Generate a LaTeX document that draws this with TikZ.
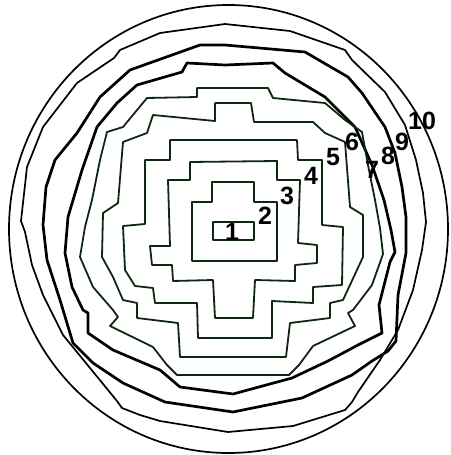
\documentclass[tikz,border=0pt]{standalone}
\usepackage{fontspec}
\setmainfont{Liberation Sans}
\definecolor{dkgreen}{RGB}{14,40,14}
\begin{document}
\begin{tikzpicture}[x=1pt,y=-1pt,line join=round,line cap=round,
  innerc/.style={draw=dkgreen,line width=1.8pt},
  thickc/.style={draw=black,line width=2.7pt},
  outerc/.style={draw=black,line width=1.7pt},
  lab/.style={font=\fontsize{25}{25}\selectfont\bfseries,inner sep=0pt,text=black}]
\useasboundingbox (0,0) rectangle (450,455);
\fill[white] (0,0) rectangle (450,455);
% contour 10
\draw[outerc] (228.5,229) ellipse [x radius=219.5, y radius=224];
% contour 9
\draw[outerc] (225,24) -- (290,31) -- (345,50) -- (352,60) -- (385,92) -- (405,125) -- (416,160) -- (423,193) -- (426,222) -- (422,250) -- (413,290) -- (398,330) -- (380,360) -- (358,392) -- (352,402) -- (345,410) -- (293,426) -- (228,432) -- (160,421) -- (140,415) -- (122,408) -- (117,401) -- (90,368) -- (63,335) -- (43,295) -- (32,265) -- (25,232) -- (21,221) -- (27,167) -- (43,127) -- (77,83) -- (114,58) -- (120,50) -- (160,33) -- cycle;
% contour 8
\draw[thickc] (225,45) -- (305,52) -- (348,77) -- (362,93) -- (385,127) -- (395,153) -- (402,187) -- (406,217) -- (406,253) -- (398,295) -- (396,341) -- (388,351) -- (372,361) -- (352,375) -- (302,398) -- (233,412) -- (165,402) -- (123,383) -- (93,363) -- (73,343) -- (60,300) -- (47,260) -- (43,225) -- (46,187) -- (55,160) -- (77,133) -- (100,97) -- (130,70) -- (200,45) -- cycle;
% contour 7
\draw[thickc] (225,65) -- (273,63) -- (285,73) -- (325,97) -- (355,127) -- (372,165) -- (384,200) -- (391,230) -- (395,252) -- (390,262) -- (379,305) -- (382,333) -- (358,345) -- (328,361) -- (292,378) -- (233,394) -- (180,387) -- (160,370) -- (113,350) -- (88,333) -- (88,313) -- (83,310) -- (72,287) -- (65,253) -- (68,217) -- (82,170) -- (97,127) -- (117,103) -- (137,85) -- (182,72) -- (187,63) -- cycle;
% contour 6
\draw[innerc] (147,98) -- (197,97) -- (197,88) -- (268,88) -- (273,98) -- (325,103) -- (345,120) -- (362,132) -- (368,165) -- (375,200) -- (380,228) -- (383,254) -- (372,285) -- (353,310) -- (348,313) -- (355,326) -- (313,346) -- (299,365) -- (289,375) -- (177,375) -- (167,365) -- (153,347) -- (110,326) -- (118,317) -- (113,310) -- (93,287) -- (80,257) -- (85,227) -- (92,200) -- (100,160) -- (107,132) -- (123,127) -- cycle;
% contour 5
\draw[innerc] (153,115) -- (215,121) -- (215,103) -- (251,103) -- (254,122) -- (313,122) -- (325,133) -- (345,142) -- (350,207) -- (363,215) -- (363,257) -- (343,300) -- (330,303) -- (330,318) -- (290,323) -- (286,357) -- (180,357) -- (178,323) -- (137,318) -- (137,303) -- (123,300) -- (113,277) -- (102,257) -- (103,213) -- (118,203) -- (123,142) -- (147,133) -- cycle;
% contour 4
\draw[innerc] (170,140) -- (297,140) -- (298,160) -- (322,160) -- (322,225) -- (343,227) -- (342,285) -- (313,287) -- (313,303) -- (272,301) -- (272,338) -- (198,338) -- (197,303) -- (155,303) -- (153,288) -- (135,286) -- (125,270) -- (123,226) -- (145,224) -- (145,160) -- (170,160) -- cycle;
% contour 3
\draw[innerc] (190,162) -- (277,161) -- (277,180) -- (300,180) -- (298,243) -- (317,245) -- (317,263) -- (295,265) -- (295,281) -- (255,280) -- (253,318) -- (215,318) -- (213,280) -- (173,281) -- (172,265) -- (152,265) -- (150,246) -- (170,246) -- (168,180) -- (190,180) -- cycle;
% contour 2
\draw[innerc] (212,182) -- (254,182) -- (254,202) -- (277,202) -- (277,261) -- (192,261) -- (192,202) -- (212,202) -- cycle;
% contour 1
\draw[innerc] (213,222) rectangle (254,240);
% labels
\node[lab] (l1) at (232,232) {1};
\node[lab] (l2) at (265,216) {2};
\node[lab] (l3) at (287,196) {3};
\node[lab] (l4) at (311,176) {4};
\node[lab] (l5) at (333,157) {5};
\node[lab] (l6) at (352,142) {6};
\node[lab] (l7) at (372,170) {7};
\node[lab] (l8) at (388,156) {8};
\node[lab] (l9) at (402,142) {9};
\node[lab] (l10) at (422,121) {10};
\end{tikzpicture}
\end{document}
